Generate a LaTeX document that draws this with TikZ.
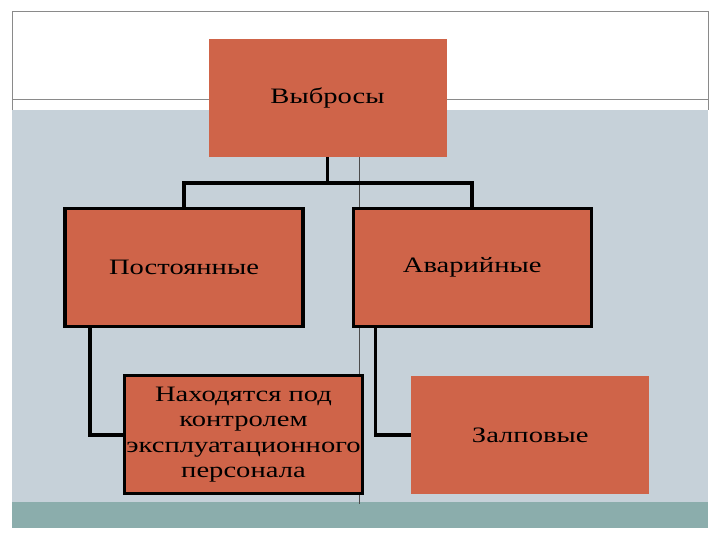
\documentclass[tikz,border=0pt]{standalone}
\usepackage{fontspec}
\setmainfont[FakeStretch=1.3]{Liberation Serif}
\usepackage{xcolor}
\usetikzlibrary{positioning}
\usetikzlibrary{calc}
\definecolor{brick}{HTML}{CF6449}
\definecolor{slate}{HTML}{C6D1D9}
\definecolor{sea}{HTML}{8BADAC}
\definecolor{framegray}{HTML}{8A8A8A}
\tikzset{
  % A tree block with a heavy black border
  block/.style={
    fill=brick, draw=black, line width=3.2pt, rectangle, align=center,
    minimum width=238pt, minimum height=118pt, inner sep=2pt,
    font=\fontsize{22pt}{25.5pt}\selectfont},
  % The same block without a border
  flatblock/.style={block, draw=none, line width=0pt},
  % Elbow connectors
  link/.style={draw=black, line width=3.5pt},
  % Slide decoration
  frameline/.style={draw=framegray, line width=1pt},
}

\begin{document}
\begin{tikzpicture}[x=1pt, y=-1pt]

  \useasboundingbox (0,0) rectangle (720,540);

  % slide background
  \fill[white] (0,0) rectangle (720,540);
  \fill[slate] (12,110) rectangle (708,502);
  \fill[sea]   (12,502) rectangle (708,528);
  \draw[frameline] (12,110) -- (12,12) -- (708,12) -- (708,110);
  \draw[frameline] (12,100) -- (708,100);
  \draw[black!70, line width=0.8pt] (359,110) -- (359,504);

  \node[flatblock] (top) at (327.5,98) {Выбросы};

  \node[block, below=50pt of top, xshift=-143.5pt] (perm)  {Постоянные};
  \node[block, right=47pt of perm]                 (avar)  {Аварийные};

  \node[block, below=46pt of perm, xshift=59.5pt]  (ctrl)
       {Находятся под\\контролем\\эксплуатационного\\персонала};
  \node[flatblock, below=48pt of avar, xshift=58pt] (salvo) {Залповые};

  \coordinate (hub) at ($(top.south)+(0,26)$);

  \draw[link] (top.south) -- (hub);
  \draw[link] (hub) -| (perm.north);
  \draw[link] (hub) -| (avar.north);

  \draw[link] ([xshift=26.5pt]perm.south west) |- (ctrl.west);
  \draw[link] ([xshift=24pt]avar.south west)   |- (salvo.west);

\end{tikzpicture}
\end{document}
